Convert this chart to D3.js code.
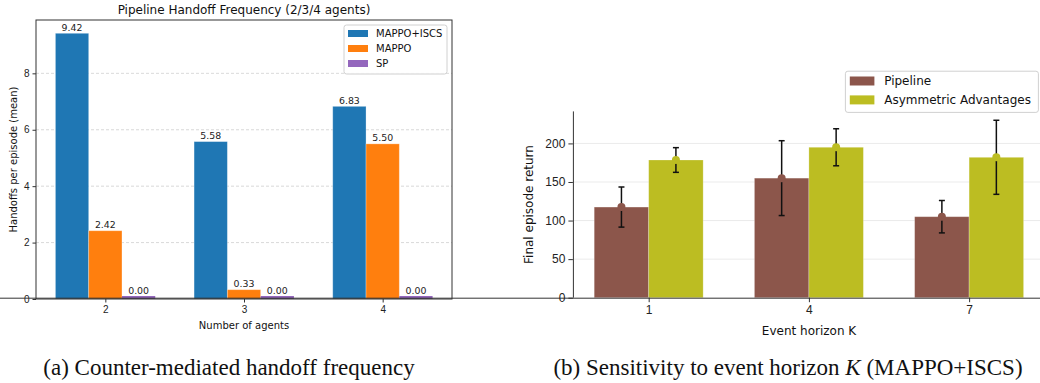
<!DOCTYPE html>
<html>
<head>
<meta charset="utf-8">
<script src="https://cdn.jsdelivr.net/npm/d3@7"></script>
<style>
  body { margin: 0; background: #fff; }
  svg { font-family: "DejaVu Sans", sans-serif; }
  .caption { font-family: "Liberation Serif", "Times New Roman", serif; font-size: 23px; fill: #111; }
  .domain { stroke: #333; }
  .tick line { stroke: #333; }
  .tick text { fill: #222; }
</style>
</head>
<body>
<svg id="fig" width="1040" height="383"></svg>
<script>
// ---- data: panel (a)
const agentCounts = [2, 3, 4];
const seriesNamesA = ['MAPPO+ISCS', 'MAPPO', 'SP'];
const mappoIscs = [9.42, 5.58, 6.83];
const mappo = [2.42, 0.33, 5.50];
const sp = [0.00, 0.00, 0.00];
const yTicksA = [0, 2, 4, 6, 8];

// ---- data: panel (b)
const horizons = [1, 4, 7];
const seriesNamesB = ['Pipeline', 'Asymmetric Advantages'];
const pipelineMean = [117.5, 155, 105];
const pipelineErr = [26, 48.5, 21];
const asymMean = [178.5, 195, 182];
const asymErr = [16, 24, 48];
const yTicksB = [0, 50, 100, 150, 200];

let svg = d3.select('#fig');

// ================= panel (a) =================
const colorsA = ['#1f77b4', '#ff7f0e', '#9467bd'];
const valsA = [mappoIscs, mappo, sp];
const bw = 0.24;
const minH = 3; // zero bars still show as a thin strip

let xA = d3.scaleLinear().domain([1.5, 4.5]).range([36, 452]);
let yA = d3.scaleLinear().domain([0, d3.max(mappoIscs) * 1.05]).range([299, 20]);

let pa = svg.append('g');

// dashed grid
pa.selectAll('line.grid').data(yTicksA.slice(1))
  .join('line')
  .attr('x1', 36).attr('x2', 452)
  .attr('y1', d => yA(d)).attr('y2', d => yA(d))
  .attr('stroke', '#cfcfcf').attr('stroke-dasharray', '3,2').attr('stroke-width', 0.8);

valsA.forEach((vals, s) => {
  let off = (s - 1) * bw;
  let rows = agentCounts.map((a, i) => ({ x: a + off, v: vals[i] }));
  pa.selectAll('rect.s' + s).data(rows)
    .join('rect')
    .attr('x', d => xA(d.x - bw / 2))
    .attr('width', d => xA(d.x + bw / 2) - xA(d.x - bw / 2))
    .attr('y', d => Math.min(yA(d.v), yA(0) - minH))
    .attr('height', d => Math.max(yA(0) - yA(d.v), minH))
    .attr('fill', colorsA[s])
    .attr('stroke', '#fff').attr('stroke-opacity', d => d.v > 0 ? 0.35 : 0).attr('stroke-width', 0.8);
  pa.selectAll('text.v' + s).data(rows)
    .join('text')
    .attr('x', d => xA(d.x))
    .attr('y', d => Math.min(yA(d.v), yA(0) - minH) - 2.5)
    .attr('text-anchor', 'middle')
    .attr('font-size', 9.4).attr('fill', '#222')
    .text(d => d.v.toFixed(2));
});

pa.append('g').attr('transform', 'translate(0,299)')
  .call(d3.axisBottom(xA).tickValues(agentCounts).tickFormat(d3.format('d')).tickSizeOuter(0).tickSize(3.5).tickPadding(3))
  .call(g => g.select('.domain').remove())
  .selectAll('text').attr('font-size', 10);
pa.append('g').attr('transform', 'translate(36,0)')
  .call(d3.axisLeft(yA).tickValues(yTicksA).tickSizeOuter(0).tickSize(3.5).tickPadding(3))
  .call(g => g.select('.domain').remove())
  .selectAll('text').attr('font-size', 10);

// frame
pa.append('rect').attr('x', 36).attr('y', 20).attr('width', 416).attr('height', 279)
  .attr('fill', 'none').attr('stroke', '#333').attr('stroke-width', 1);

pa.append('text').attr('x', 244).attr('y', 14).attr('text-anchor', 'middle')
  .attr('font-size', 12).attr('fill', '#111').text('Pipeline Handoff Frequency (2/3/4 agents)');
pa.append('text').attr('x', 244).attr('y', 329).attr('text-anchor', 'middle')
  .attr('font-size', 10).attr('fill', '#111').text('Number of agents');
pa.append('text').attr('transform', 'translate(16.5,159.5) rotate(-90)').attr('text-anchor', 'middle')
  .attr('font-size', 10).attr('fill', '#111').text('Handoffs per episode (mean)');

// legend a
let la = pa.append('g');
la.append('rect').attr('x', 344).attr('y', 25).attr('width', 103).attr('height', 49).attr('rx', 2.5)
  .attr('fill', '#fff').attr('fill-opacity', 0.85).attr('stroke', '#d0d0d0');
seriesNamesA.forEach((n, i) => {
  let cy = 33.5 + i * 15;
  la.append('rect').attr('x', 348).attr('y', cy - 3.5).attr('width', 20).attr('height', 7).attr('fill', colorsA[i]);
  la.append('text').attr('x', 376).attr('y', cy + 3.6).attr('font-size', 10).attr('fill', '#111').text(n);
});

// ================= panel (b) =================
const colorsB = ['#8c564b', '#bcbd22'];
const meansB = [pipelineMean, asymMean];
const errsB = [pipelineErr, asymErr];
const bwB = 0.34;

let xB = d3.scaleLinear().domain([-0.473, 2.473]).range([572.9, 1044.9]);
let yB = d3.scaleLinear().domain([0, d3.max(asymMean.map((m, i) => m + asymErr[i])) * 1.05]).range([297.7, 111.4]);

let pb = svg.append('g');

pb.selectAll('line.grid').data(yTicksB.slice(1))
  .join('line')
  .attr('x1', 572.9).attr('x2', 1040)
  .attr('y1', d => yB(d)).attr('y2', d => yB(d))
  .attr('stroke', '#ebebeb').attr('stroke-width', 1);

meansB.forEach((vals, s) => {
  let off = (s === 0 ? -1 : 1) * bwB / 2;
  let rows = horizons.map((h, i) => ({ x: i + off, v: vals[i], e: errsB[s][i] }));
  pb.selectAll('rect.b' + s).data(rows)
    .join('rect')
    .attr('x', d => xB(d.x - bwB / 2))
    .attr('width', d => xB(d.x + bwB / 2) - xB(d.x - bwB / 2))
    .attr('y', d => yB(d.v))
    .attr('height', d => yB(0) - yB(d.v))
    .attr('fill', colorsB[s])
    .attr('stroke', '#fff').attr('stroke-opacity', 0.3).attr('stroke-width', 0.8);
  // error bars
  let eb = pb.selectAll('g.e' + s).data(rows).join('g');
  eb.append('line')
    .attr('x1', d => xB(d.x)).attr('x2', d => xB(d.x))
    .attr('y1', d => yB(d.v - d.e)).attr('y2', d => yB(d.v + d.e))
    .attr('stroke', '#111').attr('stroke-width', 1.5);
  [-1, 1].forEach(sg => {
    eb.append('line')
      .attr('x1', d => xB(d.x) - 3).attr('x2', d => xB(d.x) + 3)
      .attr('y1', d => yB(d.v + sg * d.e)).attr('y2', d => yB(d.v + sg * d.e))
      .attr('stroke', '#111').attr('stroke-width', 1.5);
  });
  eb.append('circle')
    .attr('cx', d => xB(d.x)).attr('cy', d => yB(d.v)).attr('r', 4)
    .attr('fill', colorsB[s]);
});

pb.append('g').attr('transform', 'translate(0,297.7)')
  .call(d3.axisBottom(xB).tickValues([0, 1, 2]).tickFormat(i => horizons[i]).tickSizeOuter(0).tickSize(4.5).tickPadding(3))
  .call(g => g.select('.domain').attr('d', 'M0,0.5H1040'))
  .selectAll('text').attr('font-size', 12);
pb.append('g').attr('transform', 'translate(572.9,0)')
  .call(d3.axisLeft(yB).tickValues(yTicksB).tickSizeOuter(0).tickSize(4.5).tickPadding(3))
  .call(g => g.select('.domain').attr('d', 'M0.5,111.4V297.7'))
  .selectAll('text').attr('font-size', 12);

pb.append('text').attr('x', 809).attr('y', 335).attr('text-anchor', 'middle')
  .attr('font-size', 12).attr('fill', '#111').text('Event horizon K');
pb.append('text').attr('transform', 'translate(533,204.5) rotate(-90)').attr('text-anchor', 'middle')
  .attr('font-size', 12).attr('fill', '#111').text('Final episode return');

// legend b
let lb = pb.append('g');
lb.append('rect').attr('x', 845.4).attr('y', 71.2).attr('width', 193).attr('height', 41.2).attr('rx', 2.5)
  .attr('fill', '#fff').attr('fill-opacity', 0.85).attr('stroke', '#d0d0d0');
seriesNamesB.forEach((n, i) => {
  let cy = 81 + i * 18.9;
  lb.append('rect').attr('x', 849.8).attr('y', cy - 4.5).attr('width', 24.6).attr('height', 9).attr('fill', colorsB[i]);
  lb.append('text').attr('x', 884.2).attr('y', cy + 4.3).attr('font-size', 12).attr('fill', '#111').text(n);
});

// ================= captions =================
svg.append('text').attr('class', 'caption').attr('x', 229).attr('y', 375).attr('text-anchor', 'middle')
  .text('(a) Counter-mediated handoff frequency');
let cb = svg.append('text').attr('class', 'caption').attr('x', 788).attr('y', 375).attr('text-anchor', 'middle');
cb.append('tspan').text('(b) Sensitivity to event horizon ');
cb.append('tspan').attr('font-style', 'italic').text('K');
cb.append('tspan').text(' (MAPPO+ISCS)');
</script>
</body>
</html>
